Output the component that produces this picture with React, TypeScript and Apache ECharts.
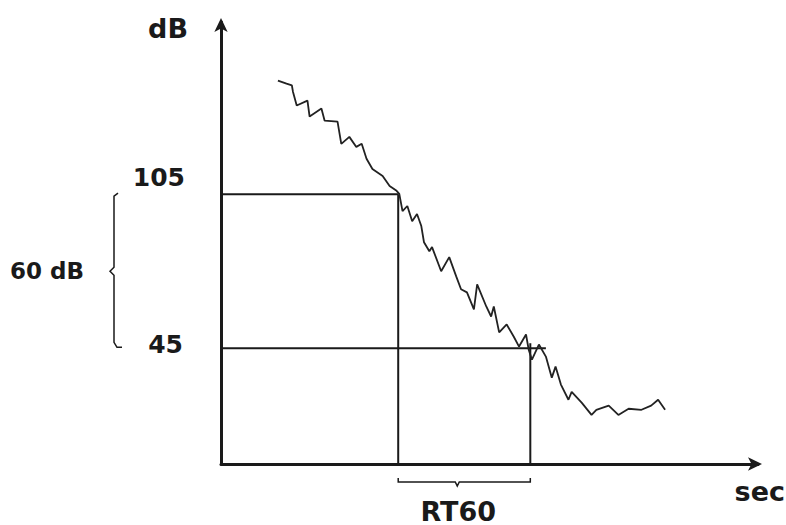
import React, { useEffect, useRef } from "react";
import * as echarts from "echarts";

// decay curve (time in arbitrary units, level in dB)
const decayTime = [1.06,1.22,1.32,1.34,1.41,1.61,1.65,1.87,1.93,2.17,2.24,2.39,2.52,2.62,2.71,2.82,3.01,3.14,3.27,3.32,3.38,3.47,3.56,3.65,3.73,3.78,3.88,3.93,4.10,4.25,4.38,4.47,4.58,4.71,4.77,4.94,5.03,5.08,5.18,5.32,5.45,5.55,5.68,5.73,5.79,5.92,6.05,6.16,6.23,6.33,6.47,6.53,6.72,6.90,6.99,7.22,7.40,7.59,7.83,8.01,8.14,8.27];
const decayLevel = [149.2,148.0,147.3,144.9,139.5,141.4,135.2,138.3,133.6,133.2,124.6,127.3,123.4,124.6,118.8,114.8,112.1,108.2,106.3,105.1,98.4,100.4,94.5,97.3,92.6,86.3,82.8,84.4,75.0,80.5,73.0,68.0,66.8,60.2,69.9,61.3,57.4,61.3,51.2,54.3,49.6,45.7,50.4,44.5,40.6,46.5,41.8,33.6,37.9,30.9,25.0,28.1,23.8,19.1,21.1,22.7,19.1,21.5,21.1,22.7,25.0,21.1];

const levelMarks = [105, 45]; // dB
const levelLabels = ["105", "45"];
const t105 = 3.30; // time where decay crosses 105 dB
const t45 = 5.76;  // time where decay crosses 45 dB
const line45End = 6.05;

const FONT = "DejaVu Sans";
const INK = "#1a1a1a";

export default function App() {
  const ref = useRef<HTMLDivElement>(null);
  useEffect(() => {
    const chart = echarts.init(ref.current!, null, { renderer: "svg" });
    const guide = (data: number[][]) => ({
      type: "line",
      data,
      showSymbol: false,
      silent: true,
      lineStyle: { color: INK, width: 2 },
    });
    chart.setOption({
      animation: false,
      backgroundColor: "#fff",
      grid: { left: 221, right: 28, top: 22, bottom: 61 },
      xAxis: {
        type: "value",
        min: 0,
        max: 10,
        axisLine: { lineStyle: { color: INK, width: 3 }, symbol: ["none", "arrow"], symbolSize: [10, 14], symbolOffset: [0, 4] },
        axisTick: { show: false },
        axisLabel: { show: false },
        splitLine: { show: false },
      },
      yAxis: {
        type: "value",
        min: 0,
        max: 172,
        axisLine: { show: true, lineStyle: { color: INK, width: 3 }, symbol: ["none", "arrow"], symbolSize: [10, 14], symbolOffset: [0, 4] },
        axisTick: { show: false },
        axisLabel: { show: false },
        splitLine: { show: false },
      },
      series: [
        guide([[0, levelMarks[0]], [t105, levelMarks[0]]]),
        guide([[t105, levelMarks[0]], [t105, 0]]),
        guide([[0, levelMarks[1]], [line45End, levelMarks[1]]]),
        guide([[t45, levelMarks[1] + 2], [t45, 0]]),
        {
          type: "line",
          data: decayTime.map((t, i) => [t, decayLevel[i]]),
          showSymbol: false,
          lineStyle: { color: "#222", width: 1.8 },
        },
      ],
    });

    const px = (x: number, y: number) => chart.convertToPixel({ gridIndex: 0 }, [x, y]) as number[];
    const [, y105] = px(0, levelMarks[0]);
    const [, y45] = px(0, levelMarks[1]);
    const [xA] = px(t105, 0);
    const [xB] = px(t45, 0);
    const [x0, yBase] = px(0, 0);
    const textStyle = (s: string, x: number, y: number, size = 22, align = "left") => ({
      type: "text",
      x,
      y,
      style: { text: s, font: `bold ${size}px "${FONT}"`, fill: INK, textAlign: align, textVerticalAlign: "middle" },
    });
    const yMid = (y105 + y45) / 2;
    const xMid = (xA + xB) / 2;
    chart.setOption({
      graphic: [
        textStyle("dB", x0 - 33, 28, 27, "right"),
        textStyle(levelLabels[0], x0 - 36, y105 - 17, 25, "right"),
        textStyle(levelLabels[1], x0 - 38, y45 - 4, 25, "right"),
        textStyle("60 dB", 10, yMid, 23, "left"),
        textStyle("sec", 785, yBase + 27, 27, "right"),
        textStyle("RT60", xMid - 6, yBase + 47, 27, "center"),
        {
          type: "polyline",
          shape: {
            points: [
              [118, y105 - 1], [114, y105 + 2], [114, yMid - 4], [110, yMid], [114, yMid + 4],
              [114, y45 - 6], [117, y45 - 1], [122, y45 - 1],
            ],
          },
          style: { stroke: INK, lineWidth: 1.5, fill: "none" },
        },
        {
          type: "polyline",
          shape: {
            points: [
              [xA, yBase + 14], [xA, yBase + 18], [xMid - 9, yBase + 18], [xMid - 7, yBase + 22],
              [xMid - 5, yBase + 18], [xB, yBase + 18], [xB, yBase + 14],
            ],
          },
          style: { stroke: INK, lineWidth: 1.5, fill: "none" },
        },
      ],
    });
    return () => chart.dispose();
  }, []);
  return <div ref={ref} style={{ width: 786, height: 525, position: "absolute", left: 0, top: 0 }} />;
}
